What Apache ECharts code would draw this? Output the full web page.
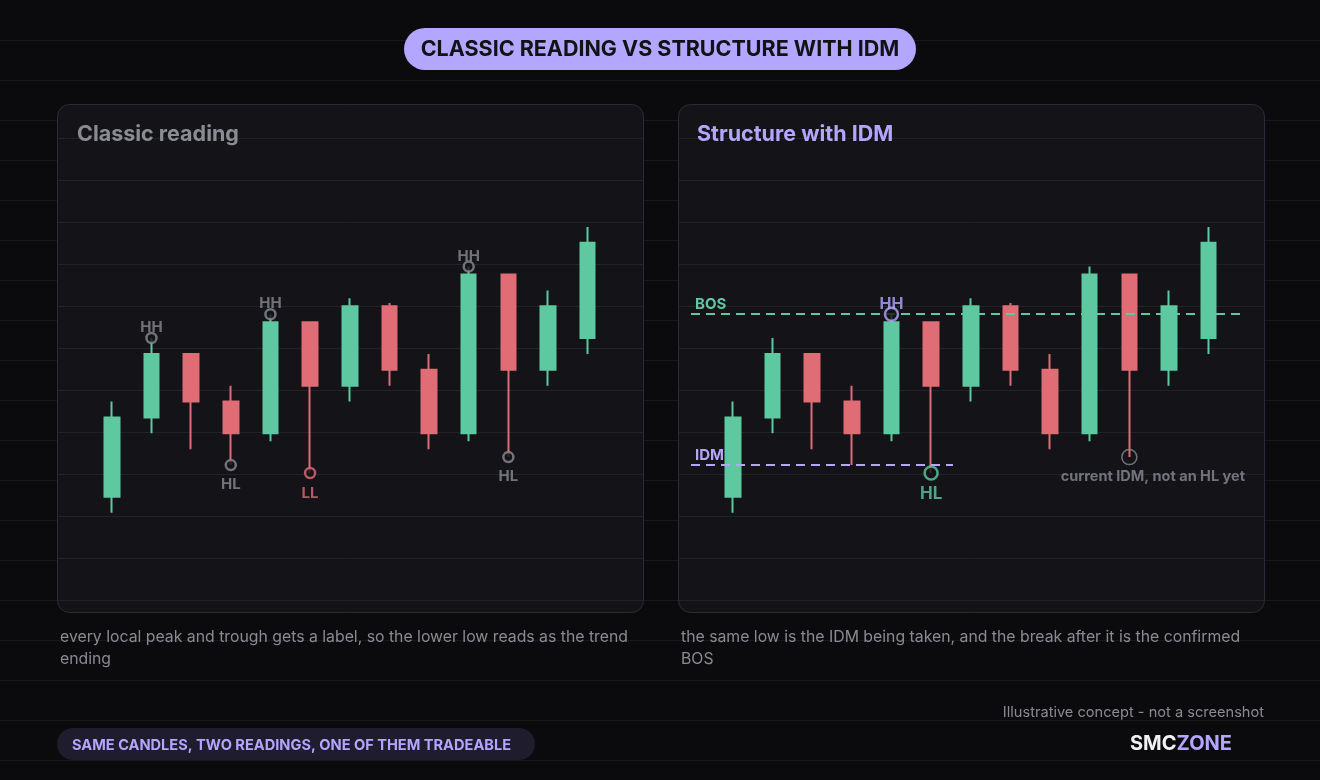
<!DOCTYPE html>
<html>
<head>
<meta charset="utf-8">
<title>Classic reading vs structure with IDM</title>
<script src="https://cdn.jsdelivr.net/npm/echarts@6.0.0/dist/echarts.min.js"></script>
<style>
  html, body { margin: 0; padding: 0; background: #0b0b0e; }
  #main { width: 1320px; height: 780px; }
</style>
</head>
<body>
<div id="main"></div>
<script>
// the same 13 candles go in both panels
const candleIds = ['1', '2', '3', '4', '5', '6', '7', '8', '9', '10', '11', '12', '13'];
const opens  = [101, 106, 110, 107, 105,   112,   108,   113,   109, 105,   115,   109, 111];
const closes = [106, 110, 107, 105, 112,   108,   113,   109,   105, 115,   109,   113, 117];
const lows   = [100, 105, 104, 103, 104.5, 102.5, 107,   108,   104, 104.5, 103.5, 108, 110];
const highs  = [107, 111, 110, 108, 112.5, 112,   113.5, 113.2, 110, 115.5, 115,   114, 118];

// [candle index, 'high' or 'low', label]
const classicSwings = [
  [1, 'high', 'HH'], [3, 'low', 'HL'], [4, 'high', 'HH'],
  [5, 'low', 'LL'], [9, 'high', 'HH'], [10, 'low', 'HL']
];
const idmSwings = [
  [4, 'high', 'HH'], [5, 'low', 'HL'], [10, 'low', 'current IDM, not an HL yet']
];
const bosLevel = highs[4];
const idmLevel = lows[3];

const GREEN = '#5ec9a0';
const RED = '#e06c75';
const PURPLE = '#b3a6ff';
const GRAY = '#8b8b94';
const PANEL = '#131318';
const FONT = 'Inter, "Noto Sans", sans-serif';

const chart = echarts.init(document.getElementById('main'), null, { renderer: 'canvas' });

const candleData = candleIds.map((c, i) => [opens[i], closes[i], lows[i], highs[i]]);

function swingPrice(s) {
  return s[1] === 'high' ? highs[s[0]] : lows[s[0]];
}

function classicPoint(s) {
  const isLL = s[2] === 'LL';
  const col = isLL ? RED : GRAY;
  return {
    value: [s[0], swingPrice(s)],
    symbolSize: 10,
    itemStyle: { color: PANEL, borderColor: col, borderWidth: 2.5 },
    label: {
      show: true, position: 'inside', formatter: s[2], color: col,
      fontFamily: FONT, fontWeight: 700, fontSize: 15,
      offset: [0, s[1] === 'high' ? -10.5 : (isLL ? 20 : 19.5)]
    }
  };
}

function idmPoint(s) {
  if (s[0] === 10) {
    return {
      value: [s[0], swingPrice(s)],
      symbolSize: 15,
      itemStyle: { color: 'transparent', borderColor: GRAY, borderWidth: 1.5 },
      label: {
        show: true, position: 'inside', formatter: s[2], color: GRAY,
        fontFamily: FONT, fontWeight: 700, fontSize: 14.5, offset: [23.5, 20]
      }
    };
  }
  const col = s[1] === 'high' ? PURPLE : GREEN;
  return {
    value: [s[0], swingPrice(s)],
    symbolSize: 13,
    itemStyle: { color: PANEL, borderColor: col, borderWidth: 2.5 },
    label: {
      show: true, position: 'inside', formatter: s[2], color: col,
      fontFamily: FONT, fontWeight: 700, fontSize: s[1] === 'high' ? 16 : 17,
      offset: [0, s[1] === 'high' ? -10 : 21]
    }
  };
}

// background decoration
const graphics = [];
for (let y = 40; y < 780; y += 40) {
  graphics.push({ type: 'line', z: 0, shape: { x1: 0, y1: y + 0.5, x2: 1320, y2: y + 0.5 },
    style: { stroke: '#17171c', lineWidth: 1 } });
}
[57, 678].forEach(px => {
  graphics.push({ type: 'rect', z: 0, shape: { x: px + 0.5, y: 104.5, width: 586, height: 508, r: 12 },
    style: { fill: PANEL, stroke: '#2c2c36', lineWidth: 1 } });
  for (let k = 0; k < 12; k++) {
    const y = 138 + 42 * k + 0.5;
    graphics.push({ type: 'line', z: 0, shape: { x1: px + 1, y1: y, x2: px + 586, y2: y },
      style: { stroke: '#222229', lineWidth: 1 } });
  }
});
graphics.push(
  { type: 'rect', z: 1, shape: { x: 404, y: 28, width: 512, height: 42, r: 21 }, style: { fill: PURPLE } },
  { type: 'text', z: 2, style: { text: 'CLASSIC READING VS STRUCTURE WITH IDM', x: 660, y: 49.5,
    textAlign: 'center', textVerticalAlign: 'middle', fill: '#121214', font: '700 21.5px ' + FONT } },
  { type: 'text', z: 2, style: { text: 'Classic reading', x: 77, y: 135, textVerticalAlign: 'middle',
    fill: GRAY, font: '700 21.5px ' + FONT } },
  { type: 'text', z: 2, style: { text: 'Structure with IDM', x: 697, y: 135, textVerticalAlign: 'middle',
    fill: PURPLE, font: '700 21.5px ' + FONT } },
  { type: 'text', z: 2, style: { text: 'every local peak and trough gets a label, so the lower low reads as the trend\nending',
    x: 60, y: 626, lineHeight: 22, fill: '#8a8a92', font: '400 15.8px ' + FONT } },
  { type: 'text', z: 2, style: { text: 'the same low is the IDM being taken, and the break after it is the confirmed\nBOS',
    x: 681, y: 626, lineHeight: 22, fill: '#8a8a92', font: '400 15.8px ' + FONT } },
  { type: 'rect', z: 1, shape: { x: 57, y: 728, width: 478, height: 32, r: 16 }, style: { fill: '#1e1c2d' } },
  { type: 'text', z: 2, style: { text: 'SAME CANDLES, TWO READINGS, ONE OF THEM TRADEABLE', x: 72, y: 745.5,
    textVerticalAlign: 'middle', fill: PURPLE, font: '700 14.6px ' + FONT } },
  { type: 'text', z: 2, style: { text: 'Illustrative concept - not a screenshot', x: 1264, y: 713,
    textAlign: 'right', textVerticalAlign: 'middle', fill: '#8a8a92', font: '400 14.6px ' + FONT } },
  { type: 'text', z: 2, style: { text: '{a|SMC}{b|ZONE}', x: 1130, y: 744, textVerticalAlign: 'middle',
    rich: { a: { fill: '#f2f2f5', font: '700 20px ' + FONT }, b: { fill: PURPLE, font: '700 20px ' + FONT } } } }
);

function candleSeries(gridIdx, extra) {
  return Object.assign({
    type: 'candlestick',
    xAxisIndex: gridIdx, yAxisIndex: gridIdx,
    data: candleData,
    barWidth: 15,
    z: 3,
    itemStyle: { color: GREEN, color0: RED, borderColor: GREEN, borderColor0: RED, borderWidth: 2 }
  }, extra || {});
}

const option = {
  backgroundColor: '#0b0b0e',
  animation: false,
  graphic: { elements: graphics },
  grid: [
    { left: 92, top: 138, width: 515.5, height: 462 },
    { left: 713, top: 138, width: 515.5, height: 462 }
  ],
  xAxis: [0, 1].map(i => ({ type: 'category', gridIndex: i, data: candleIds, show: false })),
  yAxis: [0, 1].map(i => ({ type: 'value', gridIndex: i, min: 94.5, max: 123.6, show: false,
    splitLine: { show: false } })),
  series: [
    candleSeries(0),
    {
      type: 'scatter', xAxisIndex: 0, yAxisIndex: 0, z: 5,
      data: classicSwings.map(classicPoint)
    },
    candleSeries(1, {
      markLine: {
        symbol: 'none', silent: true, z: 4,
        data: [
          [
            { x: 691, yAxis: bosLevel, lineStyle: { color: GREEN, type: [9, 6], width: 2 },
              label: { show: true, formatter: 'BOS', position: 'insideStartTop', distance: [4, 2],
                color: GREEN, fontFamily: FONT, fontWeight: 700, fontSize: 15 } },
            { x: 1245, yAxis: bosLevel }
          ],
          [
            { x: 691, yAxis: idmLevel, lineStyle: { color: PURPLE, type: [9, 6], width: 2 },
              label: { show: true, formatter: 'IDM', position: 'insideStartTop', distance: [4, 2],
                color: PURPLE, fontFamily: FONT, fontWeight: 700, fontSize: 15 } },
            { x: 953, yAxis: idmLevel }
          ]
        ]
      }
    }),
    {
      type: 'scatter', xAxisIndex: 1, yAxisIndex: 1, z: 6,
      data: idmSwings.map(idmPoint)
    }
  ]
};

chart.setOption(option);
</script>
</body>
</html>
